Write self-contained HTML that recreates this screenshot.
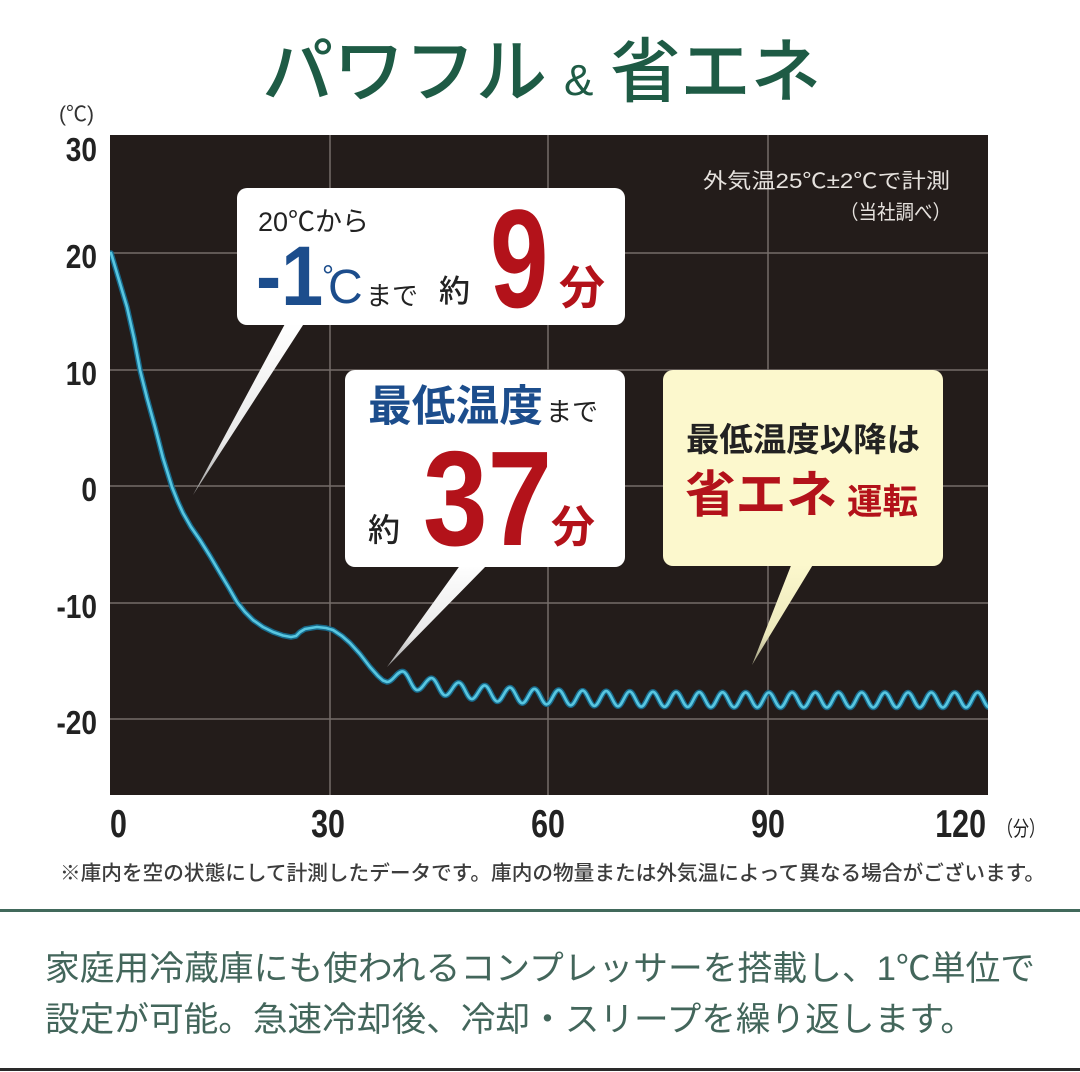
<!DOCTYPE html>
<html><head><meta charset="utf-8">
<style>
html,body{margin:0;padding:0;background:#fff;}
svg{display:block;}
text{font-family:"Liberation Sans","Noto Sans CJK JP",sans-serif;}
</style></head>
<body>
<svg width="1080" height="1072" viewBox="0 0 1080 1072" xmlns="http://www.w3.org/2000/svg">
<defs>
  <clipPath id="plot"><rect x="110" y="135" width="878" height="660"/></clipPath>
  <linearGradient id="pw" x1="0" y1="0" x2="0" y2="1">
    <stop offset="0" stop-color="#ffffff"/>
    <stop offset="0.7" stop-color="#e8e8e8"/>
    <stop offset="1" stop-color="#9a9a9a"/>
  </linearGradient>
  <linearGradient id="py" x1="0" y1="0" x2="0" y2="1">
    <stop offset="0" stop-color="#fcf8cd"/>
    <stop offset="0.7" stop-color="#ece8bc"/>
    <stop offset="1" stop-color="#9c9a80"/>
  </linearGradient>
  <path id="curve" d="M111 253 L119 280 L127 307 L134 338 L140 370 L147 398 L155 427 L163 458 L172 487 L178 502 L183 513 L191 527 L200 540 L210 556 L220 573 L229 588 L237 602 L245 612 L253 620 L263 627 L273 632 L283 635.5 L291 637 L296 636 L300 632 L305 629 L317 627 L326 628 L333 630 L342 636 L350 643 L360 654 L370 667 L378 676 L383 680.5 L387 682
  C392.6 682 396.9 671.4 402.5 671.4
  S412 690.1 417.3 690.1 S426.4 678.1 431.5 678.1 S440.3 695.5 445.3 695.5 S453.9 682.5 458.7 682.5
  S467.1 699.1 471.8 699.1 S480.1 685.4 484.7 685.4 S492.8 701.5 497.4 701.5 S505.4 687.5 509.9 687.5
  S517.8 703.2 522.3 703.2 S530.1 688.9 534.5 688.9 S542.2 704.4 546.6 704.4 S554.3 689.9 558.7 689.9
  S566.4 705.3 570.7 705.3 S578.3 690.6 582.6 690.6 S590.2 705.9 594.4 705.9 S602 691.1 606.2 691.1
  S613.8 706.3 618 706.3 S625.5 691.5 629.7 691.5 S637.1 706.6 641.3 706.6 S648.7 691.8 652.9 691.8
  S660.3 706.8 664.5 706.8 S671.9 692 676.1 692 S683.5 707 687.7 707 S695.1 692.2 699.3 692.2
  S706.7 707.2 710.9 707.2 S718.3 692.3 722.5 692.3 S729.9 707.3 734.1 707.3 S741.5 692.4 745.7 692.4
  S753.1 707.4 757.3 707.4 S764.7 692.5 768.9 692.5 S776.3 707.5 780.5 707.5 S787.9 692.5 792.1 692.5
  S799.5 707.5 803.7 707.5 S811.1 692.5 815.3 692.5 S822.7 707.5 826.9 707.5 S834.3 692.5 838.5 692.5
  S845.9 707.5 850.1 707.5 S857.5 692.5 861.7 692.5 S869.1 707.5 873.3 707.5 S880.7 692.5 884.9 692.5
  S892.3 707.5 896.5 707.5 S903.9 692.5 908.1 692.5 S915.5 707.5 919.7 707.5 S927.1 692.5 931.3 692.5
  S938.7 707.5 942.9 707.5 S950.3 692.5 954.5 692.5 S961.9 707.5 966.1 707.5 S973.5 692.5 977.7 692.5
  S985.1 707.5 989.3 707.5"/>
</defs>

<!-- Title -->
<text x="262" y="96" font-size="70" font-weight="500" fill="#1e5b45" textLength="285" lengthAdjust="spacingAndGlyphs">パワフル</text>
<text x="564" y="95" font-size="44" font-weight="400" fill="#1e5b45" font-family="Liberation Sans, sans-serif">&amp;</text>
<text x="610" y="96" font-size="70" font-weight="500" fill="#1e5b45" textLength="211" lengthAdjust="spacingAndGlyphs">省エネ</text>

<!-- unit -->
<text x="59" y="121" font-size="21" fill="#333">(℃)</text>

<!-- chart background -->
<rect x="110" y="135" width="878" height="660" fill="#231c1a"/>

<!-- gridlines -->
<g stroke="#746d69" stroke-width="1.5">
  <line x1="110" y1="253" x2="988" y2="253"/>
  <line x1="110" y1="370" x2="988" y2="370"/>
  <line x1="110" y1="486" x2="988" y2="486"/>
  <line x1="110" y1="603" x2="988" y2="603"/>
  <line x1="110" y1="719" x2="988" y2="719"/>
  <line x1="330" y1="135" x2="330" y2="795"/>
  <line x1="548" y1="135" x2="548" y2="795"/>
  <line x1="768" y1="135" x2="768" y2="795"/>
</g>

<!-- note -->
<text x="703" y="188" font-size="21" fill="#e6e2de" textLength="247" lengthAdjust="spacingAndGlyphs">外気温25℃±2℃で計測</text>
<text x="840" y="219" font-size="20" fill="#e6e2de" textLength="111" lengthAdjust="spacingAndGlyphs">（当社調べ）</text>

<!-- curve -->
<g clip-path="url(#plot)" fill="none" stroke-linejoin="round" stroke-linecap="round">
  <use href="#curve" stroke="#17698a" stroke-width="5.5"/>
  <use href="#curve" stroke="#58c6e0" stroke-width="2.6"/>
</g>

<!-- callout 1 -->
<polygon points="286,322 305,322 193,495" fill="url(#pw)"/>
<rect x="237" y="188" width="388" height="137" rx="10" fill="#ffffff"/>
<text x="258" y="231" font-size="27" fill="#222">20℃から</text>
<text transform="translate(256,305) scale(0.9,1)" font-size="84" font-weight="700" fill="#1c4d8c" font-family="Liberation Sans, sans-serif">-1</text>
<text x="322" y="286" font-size="30" fill="#1c4d8c" font-family="Liberation Sans, sans-serif">°</text>
<text x="328" y="303" font-size="48" fill="#1c4d8c" font-family="Liberation Sans, sans-serif">C</text>
<text x="366" y="305" font-size="26" fill="#222">まで</text>
<text x="439" y="302" font-size="31" font-weight="500" fill="#222">約</text>
<text transform="translate(490,307) scale(0.75,1)" font-size="140" font-weight="700" fill="#b3121a" font-family="Liberation Sans, sans-serif">9</text>
<text x="559" y="304" font-size="46" font-weight="700" fill="#b3121a">分</text>

<!-- callout 2 -->
<polygon points="461,564 488,564 387,667" fill="url(#pw)"/>
<rect x="345" y="370" width="280" height="197" rx="10" fill="#ffffff"/>
<text x="368" y="421" font-size="43" font-weight="700" fill="#1c4d8c" textLength="175" lengthAdjust="spacingAndGlyphs">最低温度</text>
<text x="546" y="421" font-size="26" fill="#222">まで</text>
<text x="368" y="541" font-size="32" font-weight="500" fill="#222">約</text>
<text transform="translate(423,545) scale(0.86,1)" font-size="135" font-weight="700" fill="#b3121a" font-family="Liberation Sans, sans-serif">37</text>
<text x="551" y="542" font-size="44" font-weight="700" fill="#b3121a">分</text>

<!-- callout 3 -->
<polygon points="792,563 814,563 752,665" fill="url(#py)"/>
<rect x="663" y="370" width="280" height="196" rx="10" fill="#fcf8cd"/>
<text x="686" y="451" font-size="33" font-weight="700" fill="#222" textLength="234" lengthAdjust="spacingAndGlyphs">最低温度以降は</text>
<text x="685" y="512" font-size="50" font-weight="700" fill="#b3121a" textLength="152" lengthAdjust="spacingAndGlyphs">省エネ</text>
<text x="847" y="514" font-size="35" font-weight="700" fill="#b3121a" textLength="71" lengthAdjust="spacingAndGlyphs">運転</text>

<!-- y labels -->
<g font-size="33" font-weight="700" fill="#222" font-family="Liberation Sans, sans-serif" text-anchor="end">
  <text transform="translate(97,161) scale(0.85,1)">30</text>
  <text transform="translate(97,268) scale(0.85,1)">20</text>
  <text transform="translate(97,385) scale(0.85,1)">10</text>
  <text transform="translate(97,501) scale(0.85,1)">0</text>
  <text transform="translate(97,618) scale(0.85,1)">-10</text>
  <text transform="translate(97,734) scale(0.85,1)">-20</text>
</g>

<!-- x labels -->
<g font-size="39" font-weight="700" fill="#222" font-family="Liberation Sans, sans-serif">
  <text transform="translate(110,837) scale(0.78,1)">0</text>
  <text transform="translate(328,837) scale(0.78,1)" text-anchor="middle">30</text>
  <text transform="translate(548,837) scale(0.78,1)" text-anchor="middle">60</text>
  <text transform="translate(768,837) scale(0.78,1)" text-anchor="middle">90</text>
  <text transform="translate(986,837) scale(0.78,1)" text-anchor="end">120</text>
</g>
<text x="997" y="836" font-size="21" fill="#222" textLength="48" lengthAdjust="spacingAndGlyphs">（分）</text>

<!-- footnote -->
<text x="60" y="880" font-size="20.5" font-weight="500" fill="#3c3c3c" textLength="985" lengthAdjust="spacingAndGlyphs">※庫内を空の状態にして計測したデータです。庫内の物量または外気温によって異なる場合がございます。</text>

<!-- rules -->
<rect x="0" y="909" width="1080" height="3" fill="#41695b"/>
<rect x="0" y="1068" width="1080" height="3" fill="#2a2a2a"/>

<!-- body text -->
<text x="45" y="980" font-size="34" fill="#43665b" textLength="990" lengthAdjust="spacingAndGlyphs">家庭用冷蔵庫にも使われるコンプレッサーを搭載し、1℃単位で</text>
<text x="45" y="1031" font-size="34" fill="#43665b" textLength="930" lengthAdjust="spacingAndGlyphs">設定が可能。急速冷却後、冷却・スリープを繰り返します。</text>
</svg>
</body></html>
